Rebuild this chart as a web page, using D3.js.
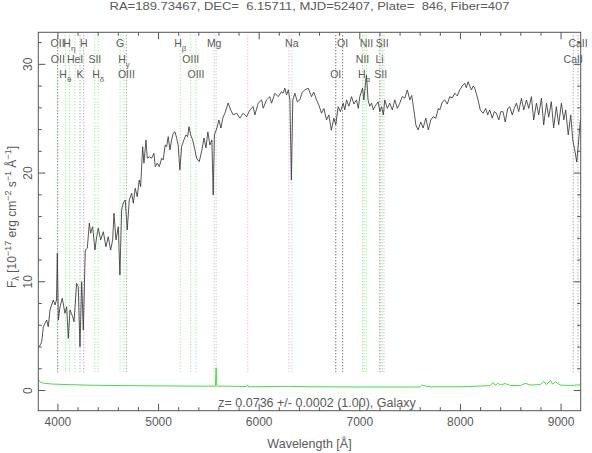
<!DOCTYPE html>
<html><head><meta charset="utf-8">
<script src="https://cdn.jsdelivr.net/npm/d3@7"></script>
<style>
body{margin:0;background:#fff;}
svg text{font-family:"Liberation Sans",Arial,sans-serif;fill:#5a5a5a;}
</style></head>
<body><svg id="c" width="592" height="453"></svg>
<script>
// ---------- data ----------
const titleText = "RA=189.73467, DEC=  6.15711, MJD=52407, Plate=  846, Fiber=407";
const redshiftText = "z= 0.0736 +/- 0.0002 (1.00), Galaxy";
const redshift = 0.0736;
const xTicksMajor = [4000,5000,6000,7000,8000,9000];
const yTicksMajor = [0,10,20,30];

const wavelength = [3820,3844,3860,3893,3909,3926,3959,3976,3991,3999,4009,4026,4048,4075,4092,4108,4125,4152,4165,4191,4207,4224,4241,4257,4277,4297,4317,4330,4350,4373,4390,4406,4430,4456,4482,4505,4529,4549,4562,4582,4605,4621,4638,4654,4674,4694,4714,4738,4754,4773,4793,4813,4827,4847,4860,4880,4893,4912,4936,4959,4972,4992,5012,5036,5051,5071,5085,5101,5118,5135,5151,5168,5185,5200,5217,5234,5257,5277,5294,5307,5324,5344,5366,5383,5409,5436,5456,5476,5495,5515,5535,5548,5560,5585,5605,5625,5644,5664,5697,5721,5747,5781,5813,5846,5880,5913,5945,5962,5995,6029,6045,6078,6111,6128,6161,6194,6227,6243,6260,6277,6295,6310,6325,6339,6360,6384,6409,6434,6459,6492,6525,6548,6575,6598,6625,6648,6674,6697,6722,6747,6766,6790,6812,6840,6856,6873,6896,6923,6946,6972,6990,7005,7032,7045,7071,7087,7104,7121,7139,7154,7187,7204,7221,7239,7253,7278,7303,7328,7353,7378,7402,7427,7452,7477,7502,7521,7542,7562,7584,7611,7634,7661,7686,7710,7733,7760,7786,7800,7825,7849,7874,7899,7924,7949,7973,7998,8023,8048,8063,8081,8097,8114,8132,8147,8162,8180,8202,8230,8256,8276,8296,8321,8341,8363,8386,8406,8428,8450,8475,8495,8520,8540,8562,8584,8611,8634,8661,8684,8710,8733,8760,8783,8810,8832,8860,8882,8908,8931,8958,8981,9008,9032,9051,9076,9101,9121,9141,9161,9180,9197];
const flux = [3.98,4.44,5.82,6.44,5.82,7.36,8.28,7.82,8.28,12.58,6.44,7.66,8.44,7.06,7.66,4.76,7.36,6.74,6.28,9.82,9.50,3.98,9.96,5.52,12.88,13.04,15.34,14.42,15.02,12.88,14.10,14.88,13.80,14.56,13.18,14.10,12.88,13.80,16.26,13.80,15.02,10.58,16.56,17.18,17.48,14.72,17.48,18.10,17.18,18.56,17.78,19.32,18.70,22.38,20.86,23.0,21.32,21.46,21.32,21.78,20.54,20.86,20.54,21.32,21.16,22.54,22.38,23.30,22.08,23.0,23.62,23.76,23.16,22.54,20.24,22.38,23.0,23.46,23.30,24.22,23.46,23.0,22.08,21.32,21.0,22.08,23.18,22.26,23.74,22.54,23.0,17.94,23.46,24.10,24.84,24.10,25.02,25.46,26.40,25.76,25.30,25.46,25.0,25.46,25.14,25.76,26.06,25.30,26.38,26.68,25.92,26.68,26.98,26.38,27.30,26.98,27.44,27.30,27.76,27.14,27.6,26.68,19.32,26.68,27.30,26.5,26.68,27.4,27.6,27.76,26.98,27.4,26.68,26.2,25.46,25.9,24.84,25.3,23.9,25.0,24.4,26.06,25.6,26.38,25.76,26.68,26.1,26.98,26.3,26.68,25.9,26.98,27.76,26.68,28.98,26.68,26.1,26.38,25.76,26.06,26.52,25.6,26.06,25.3,26.68,25.9,26.38,25.76,26.68,25.9,26.38,27.0,26.84,27.6,26.68,27.1,25.76,24.38,23.92,24.65,24.1,25.0,23.92,24.84,25.14,25.0,25.9,25.76,26.5,26.68,26.3,26.98,26.86,27.30,27.05,27.6,27.97,28.22,27.8,28.36,27.97,27.6,27.97,27.76,27.3,26.68,25.76,25.46,25.9,25.3,25.76,25.0,25.6,25.46,24.84,25.6,25.6,24.65,25.9,26.06,25.3,25.9,26.38,25.6,26.84,25.76,26.68,25.9,26.98,24.84,26.38,25.3,26.84,24.38,26.38,25.1,26.52,24.1,26.06,24.38,26.38,24.84,25.76,23.46,25.3,23.0,22.08,20.97,23.0,24.84];

const noiseWave = [3812,3830,3870,3950,4100,4300,4500,5000,5500,5570,5577,5584,5880,5890,5900,6300,6500,7000,7600,7620,7700,8000,8300,8330,8350,8380,8400,8450,8500,8600,8650,8700,8800,8830,8860,8900,8920,8950,9000,9100,9197];
const noiseFlux = [0.95,0.72,0.62,0.55,0.5,0.45,0.42,0.38,0.35,0.36,2.05,0.36,0.33,0.48,0.3,0.34,0.3,0.28,0.28,0.45,0.3,0.3,0.4,0.7,0.45,0.62,0.45,0.6,0.42,0.42,0.62,0.46,0.5,0.8,0.5,0.9,0.55,0.75,0.45,0.42,0.48];

// spectral line markers (rest wavelength, label, label tier, kind)
const lineRest  = [3727.09,3729.88,3798.98,3836.47,3889.0,3934.78,3969.59,4072.3,4102.89,4305.61,4341.68,4364.44,4862.68,4960.3,5008.24,5176.7,5895.6,6302.05,6365.54,6549.86,6564.61,6585.27,6707.89,6718.29,6732.67,8500.36,8544.44];
const lineLabel = ["OII","OII","H_θ","H_η","HeI","K","H","SII","H_δ","G","H_γ","OIII","H_β","OIII","OIII","Mg","Na","OI","OI","NII","H_α","NII","Li","SII","SII","CaII","CaII"];
const lineTier  = [0,1,2,0,1,2,0,1,2,0,1,2,0,1,2,0,0,2,0,1,2,0,1,2,0,1,0];
const lineKind  = ["abs","em","em","em","em","gray","gray","em","em","em","em","gray","em","em","em","em","em","abs","abs","em","em","em","gray","em","em","gray","gray"];
const skyLines  = [5577.3,5891.6,6300.3,7246.0];

// ---------- drawing ----------
const svg = d3.select("#c");
const L=38.3, R=580.7, T=32.3, B=410.7;
const x = d3.scaleLinear().domain([3810,9200]).range([L,R]);
const y = d3.scaleLinear().domain([-1.9,32.9]).range([B,T]);
const axisCol = "#555";

// marker lines
const kindCol = {em:"#7ee07e", abs:"#444", gray:"#8a8a8a"};
const lineTop = T+3, lineBot = y(1.65);
const markers = lineRest.map((r,i)=>({w:r*(1+redshift), label:lineLabel[i], tier:lineTier[i], kind:lineKind[i]}));
svg.append("g").selectAll("line").data(markers).join("line")
  .attr("x1",d=>x(d.w)).attr("x2",d=>x(d.w)).attr("y1",lineTop).attr("y2",lineBot)
  .attr("stroke",d=>kindCol[d.kind]).attr("stroke-width",1).attr("stroke-dasharray","1,2");
svg.append("g").selectAll("line").data(skyLines).join("line")
  .attr("x1",d=>x(d)).attr("x2",d=>x(d)).attr("y1",lineTop).attr("y2",lineBot)
  .attr("stroke","#f08cf0").attr("stroke-width",1).attr("stroke-dasharray","1,2");

// labels
const tierY = [47,63,78];
const lab = svg.append("g").style("font-size","10.5px");
markers.forEach(m=>{
  const t = lab.append("text").attr("x",x(m.w)).attr("y",tierY[m.tier]).attr("text-anchor","middle");
  const parts = m.label.split("_");
  t.append("tspan").text(parts[0]);
  if(parts[1]) t.append("tspan").attr("dy",4).style("font-size","8px").text(parts[1]);
});

// noise
const line = d3.line().x(d=>x(d[0])).y(d=>y(d[1]));
svg.append("path").datum(noiseWave.map((w,i)=>[w,noiseFlux[i]]))
  .attr("d",line).attr("fill","none").attr("stroke","#44dd44").attr("stroke-width",1);
// spectrum
svg.append("path").datum(wavelength.map((w,i)=>[w,flux[i]]))
  .attr("d",line).attr("fill","none").attr("stroke","#383838").attr("stroke-width",0.85);

// axes
function styleAxis(g){ g.select(".domain").remove(); g.selectAll("line").attr("stroke",axisCol); g.selectAll("text").style("font-size","12px").attr("fill","#5a5a5a").style("font-family","Liberation Sans, Arial, sans-serif"); }
const xMinor = d3.range(3900,9200,100).filter(v=>v%200===0 && v%1000!==0);
const yMinor = d3.range(-0,33,2).filter(v=>v%10!==0);
svg.append("g").attr("transform",`translate(0,${B})`).call(d3.axisBottom(x).tickValues(xTicksMajor).tickSize(-7).tickPadding(7).tickFormat(d3.format("d"))).call(styleAxis);
svg.append("g").attr("transform",`translate(0,${B})`).call(d3.axisBottom(x).tickValues(xMinor).tickSize(-3.5).tickFormat("")).call(styleAxis);
svg.append("g").attr("transform",`translate(0,${T})`).call(d3.axisTop(x).tickValues(xTicksMajor).tickSize(-7).tickFormat("")).call(styleAxis);
svg.append("g").attr("transform",`translate(0,${T})`).call(d3.axisTop(x).tickValues(xMinor).tickSize(-3.5).tickFormat("")).call(styleAxis);
const yl = svg.append("g").attr("transform",`translate(${L},0)`).call(d3.axisLeft(y).tickValues(yTicksMajor).tickSize(-7).tickFormat(d3.format("d"))).call(styleAxis);
yl.selectAll(".tick text").attr("transform","rotate(-90)").attr("x",0).attr("y",-6).attr("dy",0).attr("text-anchor","middle");
svg.append("g").attr("transform",`translate(${L},0)`).call(d3.axisLeft(y).tickValues(yMinor).tickSize(-3.5).tickFormat("")).call(styleAxis);
svg.append("g").attr("transform",`translate(${R},0)`).call(d3.axisRight(y).tickValues(yTicksMajor).tickSize(-7).tickFormat("")).call(styleAxis);
svg.append("g").attr("transform",`translate(${R},0)`).call(d3.axisRight(y).tickValues(yMinor).tickSize(-3.5).tickFormat("")).call(styleAxis);
svg.append("rect").attr("x",L).attr("y",T).attr("width",R-L).attr("height",B-T).attr("fill","none").attr("stroke",axisCol).attr("stroke-width",1);

// texts
svg.append("text").attr("x",(L+R)/2).attr("y",10).attr("text-anchor","middle").style("font-size","11px")
  .style("white-space","pre").attr("textLength",400).attr("lengthAdjust","spacingAndGlyphs").text(titleText);
svg.append("text").attr("x",317).attr("y",407).attr("text-anchor","middle").style("font-size","12.5px").text(redshiftText);
svg.append("text").attr("x",(L+R)/2).attr("y",448).attr("text-anchor","middle").style("font-size","12.5px").text("Wavelength [Å]");
const yt = svg.append("text").attr("transform","translate(16,217) rotate(-90)").attr("text-anchor","middle").style("font-size","12px");
yt.append("tspan").text("F");
yt.append("tspan").attr("dy",3).style("font-size","9px").text("λ");
yt.append("tspan").attr("dy",-3).text(" [10");
yt.append("tspan").attr("dy",-5).style("font-size","9px").text("−17");
yt.append("tspan").attr("dy",5).text(" erg cm");
yt.append("tspan").attr("dy",-5).style("font-size","9px").text("−2");
yt.append("tspan").attr("dy",5).text(" s");
yt.append("tspan").attr("dy",-5).style("font-size","9px").text("−1");
yt.append("tspan").attr("dy",5).text(" Å");
yt.append("tspan").attr("dy",-5).style("font-size","9px").text("−1");
yt.append("tspan").attr("dy",5).text("]");
</script></body></html>
